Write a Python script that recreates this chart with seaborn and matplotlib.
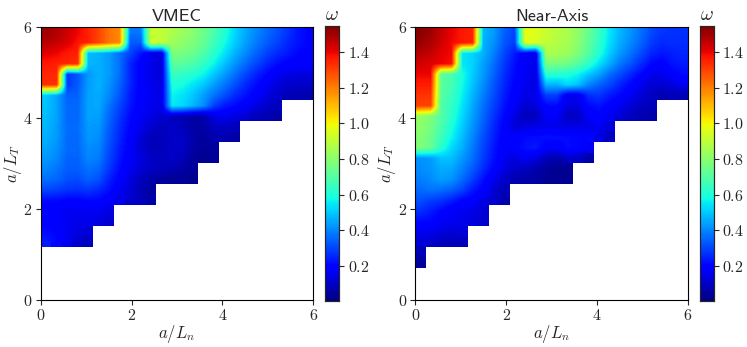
import numpy as np
import seaborn as sns
import matplotlib
matplotlib.use("Agg")
import matplotlib.pyplot as plt

n = np.nan

# omega per cell, top row (a/L_T near 6) first, a/L_n increasing to the right
vmec = [
    [1.50, 1.42, 1.33, 1.18, 0.38, 0.92, 0.85, 0.78, 0.65, 0.48, 0.38, 0.30, 0.20],
    [1.38, 1.33, 0.48, 0.42, 0.20, 0.13, 0.75, 0.72, 0.55, 0.42, 0.30, 0.22, 0.20],
    [1.33, 0.28, 0.48, 0.42, 0.20, 0.13, 0.62, 0.55, 0.45, 0.30, 0.20, 0.12, 0.12],
    [0.50, 0.30, 0.50, 0.35, 0.20, 0.15, 0.55, 0.45, 0.30, 0.22, 0.15, 0.08, 0.05],
    [0.48, 0.32, 0.48, 0.30, 0.17, 0.12, 0.08, 0.05, 0.12, 0.10, 0.05, 0.05, n],
    [0.46, 0.33, 0.45, 0.28, 0.15, 0.04, 0.15, 0.03, 0.07, 0.03, n, n, n],
    [0.42, 0.32, 0.42, 0.25, 0.14, 0.12, 0.08, 0.03, 0.03, n, n, n, n],
    [0.35, 0.30, 0.33, 0.20, 0.10, 0.02, 0.03, 0.03, n, n, n, n, n],
    [0.17, 0.16, 0.17, 0.15, 0.10, 0.06, n, n, n, n, n, n, n],
    [0.20, 0.15, 0.15, 0.08, n, n, n, n, n, n, n, n, n],
    [0.25, 0.12, 0.05, n, n, n, n, n, n, n, n, n, n],
    [n] * 13,
    [n] * 13,
]
near_axis = [
    [1.53, 1.42, 1.35, 0.48, 0.30, 0.97, 0.90, 0.85, 0.70, 0.50, 0.40, 0.28, 0.27],
    [1.45, 1.38, 0.55, 0.42, 0.25, 0.15, 0.85, 0.82, 0.65, 0.45, 0.33, 0.20, 0.25],
    [1.38, 0.72, 0.55, 0.38, 0.22, 0.14, 0.55, 0.52, 0.42, 0.30, 0.20, 0.10, 0.20],
    [1.30, 0.70, 0.50, 0.34, 0.20, 0.12, 0.25, 0.13, 0.25, 0.20, 0.12, 0.08, 0.03],
    [0.82, 0.65, 0.48, 0.30, 0.16, 0.03, 0.20, 0.03, 0.20, 0.12, 0.06, 0.06, n],
    [0.78, 0.60, 0.43, 0.27, 0.14, 0.33, 0.18, 0.32, 0.15, 0.06, n, n, n],
    [0.42, 0.48, 0.40, 0.24, 0.14, 0.10, 0.03, 0.03, 0.03, n, n, n, n],
    [0.38, 0.45, 0.30, 0.17, 0.05, 0.05, 0.03, 0.03, n, n, n, n, n],
    [0.30, 0.18, 0.16, 0.12, 0.05, n, n, n, n, n, n, n, n],
    [0.18, 0.16, 0.14, 0.10, n, n, n, n, n, n, n, n, n],
    [0.10, 0.05, 0.08, n, n, n, n, n, n, n, n, n, n],
    [0.03, n, n, n, n, n, n, n, n, n, n, n, n],
    [n] * 13,
]

# stable half-cell counts along a/L_n, one per half row starting at a/L_T = 0
vmec_stairs = [0, 0, 0, 3, 4, 6, 8, 9, 10, 12, 14, 14, 14, 14]
near_stairs = [0, 0, 1, 3, 4, 5, 8, 9, 10, 12, 14, 14, 14, 14]

titles = ["VMEC", "Near-Axis"]
ticks = [0, 2, 4, 6]
cbar_ticks = [0.2, 0.4, 0.6, 0.8, 1.0, 1.2, 1.4]
vmin, vmax = 0.005, 1.545
cmap = "jet"
jump = 0.33

sns.set_style("ticks")
plt.rcParams["mathtext.fontset"] = "cm"
plt.rcParams["axes.linewidth"] = 0.8


def stair_mask(stairs):
    mask = np.ones((26, 26), dtype=bool)
    for j, count in enumerate(stairs):
        if count == 0:
            continue
        for r in (2 * j - 1, 2 * j):
            if 0 <= r < 26:
                mask[25 - r, :min(2 * count - 1, 26)] = False
    return mask


def half_cells(values):
    # split each cell in four, blending towards neighbours except across big jumps
    v = np.array(values)
    out = np.full((26, 26), np.nan)
    for i in range(13):
        for k in range(13):
            for si in (0, 1):
                for sk in (0, 1):
                    ni = min(max(i + (2 * si - 1), 0), 12)
                    nk = min(max(k + (2 * sk - 1), 0), 12)
                    c = v[i, k]
                    a = v[ni, k] if abs(v[ni, k] - c) < jump else c
                    b = v[i, nk] if abs(v[i, nk] - c) < jump else c
                    out[2 * i + si, 2 * k + sk] = 0.5 * c + 0.25 * a + 0.25 * b
    return out


def panel(ax, cax, values, stairs, title):
    data = half_cells(values)
    mask = stair_mask(stairs)
    sns.heatmap(data, mask=mask, cmap=cmap, vmin=vmin, vmax=vmax, ax=ax, cbar_ax=cax,
                cbar_kws={"ticks": cbar_ticks}, xticklabels=False, yticklabels=False)
    ax.imshow(np.ma.masked_where(mask | np.isnan(data), data), cmap=cmap, vmin=vmin, vmax=vmax,
              extent=(0, 26, 26, 0), interpolation="bilinear", aspect="auto", zorder=2)
    ax.set_xlim(0, 26)
    ax.set_ylim(26, 0)
    pos = [t / 6 * 26 for t in ticks]
    ax.set_xticks(pos)
    ax.set_xticklabels([f"${t}$" for t in ticks], fontsize=11.5, rotation=0)
    ax.set_yticks([26 - p for p in pos])
    ax.set_yticklabels([f"${t}$" for t in ticks], fontsize=11.5, rotation=0)
    ax.tick_params(length=3.5, width=0.8, pad=2.5)
    for s in ax.spines.values():
        s.set_visible(True)
        s.set_color("black")
        s.set_linewidth(0.8)
    ax.set_xlabel(r"$a/L_n$", fontsize=12, labelpad=0)
    ax.set_ylabel(r"$a/L_T$", fontsize=12)
    ax.yaxis.set_label_coords(-0.062, 0.5)
    ax.set_title(title, fontsize=13, family="cmss10", pad=4)
    cax.set_yticklabels([f"${t:.1f}$" for t in cbar_ticks], fontsize=11.5)
    cax.tick_params(length=3.5, width=0.8, pad=2.5)
    cax.set_title(r"$\omega$", fontsize=14, pad=4)
    for s in cax.spines.values():
        s.set_visible(True)
        s.set_linewidth(0.8)


W, H = 747, 347
fig = plt.figure(figsize=(W / 100, H / 100), dpi=100)
ax1 = fig.add_axes([40.7 / W, 1 - 299.7 / H, 272.6 / W, 273 / H])
cax1 = fig.add_axes([325 / W, 1 - 301 / H, 14.3 / W, 275 / H])
ax2 = fig.add_axes([415.3 / W, 1 - 299.7 / H, 272.7 / W, 273 / H])
cax2 = fig.add_axes([700 / W, 1 - 301 / H, 14 / W, 275 / H])

panel(ax1, cax1, vmec, vmec_stairs, titles[0])
panel(ax2, cax2, near_axis, near_stairs, titles[1])

fig.savefig("out.png", dpi=100)
